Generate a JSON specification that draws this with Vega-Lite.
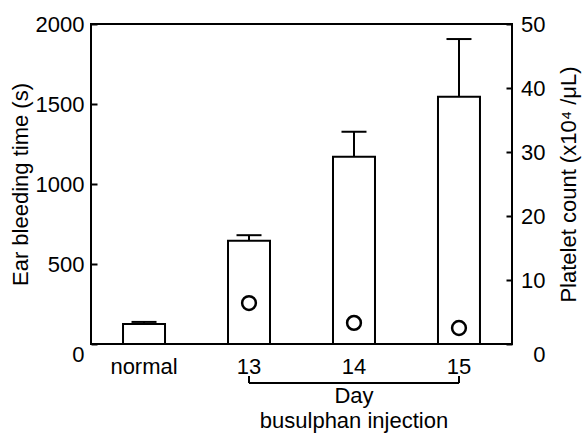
{
  "$schema": "https://vega.github.io/schema/vega-lite/v6.json",
  "width": 421,
  "height": 320,
  "autosize": {"type": "none"},
  "padding": {"left": 91, "top": 24, "right": 70, "bottom": 89},
  "background": "white",
  "config": {
    "view": {"stroke": "black", "strokeWidth": 2},
    "font": "Liberation Sans",
    "axis": {"grid": false, "labelColor": "black", "titleColor": "black", "tickColor": "black", "labelFontSize": 22, "titleFontSize": 22, "titleFontWeight": "normal", "labelFont": "Liberation Sans", "titleFont": "Liberation Sans"}
  },
  "datasets": {
    "bars": [
      {"group": "normal", "time": 125, "err": 138, "platelet": null},
      {"group": "13", "time": 645, "err": 680, "platelet": 6.4},
      {"group": "14", "time": 1170, "err": 1327, "platelet": 3.3},
      {"group": "15", "time": 1546, "err": 1906, "platelet": 2.5}
    ],
    "bracket": [{"day": "13"}, {"day": "15"}],
    "one": [{"k": 1}]
  },
  "encoding": {
    "x": {
      "field": "group",
      "type": "nominal",
      "sort": null,
      "scale": {"domain": ["normal", "13", "14", "15"], "paddingInner": 0.6, "paddingOuter": 0.305},
      "axis": {"title": null, "domain": false, "ticks": false, "labelPadding": 12, "labelAngle": 0}
    }
  },
  "layer": [
    {
      "layer": [
        {
          "data": {"name": "bars"},
          "mark": {"type": "rule", "strokeWidth": 2, "color": "black"},
          "encoding": {
            "y": {"field": "time", "type": "quantitative", "title": "Ear bleeding time (s)", "scale": {"domain": [0, 2000]}},
            "y2": {"field": "err"}
          }
        },
        {
          "data": {"name": "bars"},
          "mark": {"type": "tick", "size": 25, "thickness": 2, "color": "black", "opacity": 1},
          "encoding": {
            "y": {"field": "err", "type": "quantitative", "title": "Ear bleeding time (s)"}
          }
        },
        {
          "data": {"name": "bars"},
          "mark": {"type": "bar", "fill": "white", "stroke": "black", "strokeWidth": 2},
          "encoding": {
            "y": {
              "field": "time",
              "type": "quantitative",
              "title": "Ear bleeding time (s)",
              "axis": {
                "orient": "left",
                "values": [0, 500, 1000, 1500, 2000],
                "format": "d",
                "tickSize": -6,
                "tickWidth": 2,
                "labelPadding": 13,
                "labelBaseline": {"condition": {"test": "datum.value === 0", "value": "top"}, "value": "middle"},
                "domain": false,
                "titlePadding": 3
              }
            }
          }
        },
        {
          "data": {"name": "one"},
          "mark": {"type": "rule", "strokeWidth": 2, "color": "black"},
          "encoding": {
            "x": {"datum": "13"},
            "x2": {"datum": "15"},
            "y": {"datum": -244}
          }
        },
        {
          "data": {"name": "bracket"},
          "mark": {"type": "rule", "strokeWidth": 2, "color": "black"},
          "encoding": {
            "x": {"field": "day", "type": "nominal"},
            "y": {"datum": -244},
            "y2": {"datum": -200}
          }
        },
        {
          "data": {"name": "one"},
          "mark": {"type": "text", "text": "Day", "fontSize": 22, "font": "Liberation Sans", "baseline": "alphabetic", "align": "center", "color": "black"},
          "encoding": {
            "x": {"datum": "14"},
            "y": {"datum": -370}
          }
        },
        {
          "data": {"name": "one"},
          "mark": {"type": "text", "text": "busulphan injection", "fontSize": 22, "font": "Liberation Sans", "baseline": "alphabetic", "align": "center", "color": "black"},
          "encoding": {
            "x": {"datum": "14"},
            "y": {"datum": -528}
          }
        }
      ]
    },
    {
      "data": {"name": "bars"},
      "transform": [{"filter": "datum.platelet != null"}],
      "mark": {"type": "point", "shape": "circle", "filled": false, "stroke": "black", "strokeWidth": 2.5, "size": 190, "opacity": 1},
      "encoding": {
        "y": {
          "field": "platelet",
          "type": "quantitative",
          "scale": {"domain": [0, 50]},
          "axis": {
            "orient": "right",
            "title": "Platelet count (x10⁴ /μL)",
            "values": [0, 10, 20, 30, 40, 50],
            "format": "d",
            "tickSize": -6,
            "tickWidth": 2,
            "labelPadding": 39,
            "labelAlign": "right",
            "labelBaseline": {"condition": {"test": "datum.value === 0", "value": "top"}, "value": "middle"},
            "domain": false,
            "titleAngle": -90,
            "titleBaseline": "top",
            "titlePadding": 13
          }
        }
      }
    }
  ],
  "resolve": {"scale": {"y": "independent"}}
}
